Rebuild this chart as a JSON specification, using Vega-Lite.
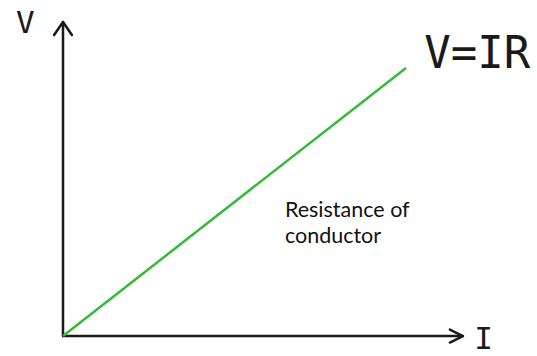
{
  "$schema": "https://vega.github.io/schema/vega-lite/v6.json",
  "autosize": {"type": "fit", "contains": "padding"},
  "width": 537,
  "height": 356,
  "padding": 0,
  "background": "white",
  "view": {"stroke": null},
  "datasets": {
    "axes": [
      {"part": "yaxis", "i": 0, "v": 0, "o": 0},
      {"part": "yaxis", "i": 0, "v": 9.18, "o": 1},
      {"part": "yarrow", "i": -0.26, "v": 8.8, "o": 0},
      {"part": "yarrow", "i": 0, "v": 9.18, "o": 1},
      {"part": "yarrow", "i": 0.26, "v": 8.8, "o": 2},
      {"part": "xaxis", "i": 0, "v": 0, "o": 0},
      {"part": "xaxis", "i": 11.66, "v": 0, "o": 1},
      {"part": "xarrow", "i": 11.28, "v": 0.19, "o": 0},
      {"part": "xarrow", "i": 11.66, "v": 0, "o": 1},
      {"part": "xarrow", "i": 11.28, "v": -0.19, "o": 2}
    ],
    "line": [
      {"i": 0, "v": 0},
      {"i": 10, "v": 7.84}
    ],
    "axislabels": [
      {"label": "V", "i": -1.1, "v": 9.11},
      {"label": "I", "i": 12.26, "v": -0.13}
    ],
    "formula": [
      {"label": "V=IR", "i": 12.08, "v": 8.22}
    ],
    "note": [
      {"label": "Resistance of", "i": 6.47, "v": 3.47},
      {"label": "conductor", "i": 6.47, "v": 2.71}
    ]
  },
  "encoding": {
    "x": {"field": "i", "type": "quantitative", "scale": {"domain": [-1.837, 13.82], "nice": false, "zero": false}, "axis": null},
    "y": {"field": "v", "type": "quantitative", "scale": {"domain": [-0.554, 9.825], "nice": false, "zero": false}, "axis": null}
  },
  "layer": [
    {
      "data": {"name": "axes"},
      "mark": {"type": "line", "color": "#1a1a1a", "strokeWidth": 2.5, "strokeCap": "round", "strokeJoin": "round"},
      "encoding": {
        "detail": {"field": "part"},
        "order": {"field": "o"}
      }
    },
    {
      "data": {"name": "line"},
      "mark": {"type": "line", "color": "#36b936", "strokeWidth": 2.5}
    },
    {
      "data": {"name": "axislabels"},
      "mark": {"type": "text", "font": "DejaVu Sans Mono", "fontSize": 31, "color": "#1a1a1a", "align": "center", "baseline": "middle"},
      "encoding": {"text": {"field": "label"}}
    },
    {
      "data": {"name": "formula"},
      "mark": {"type": "text", "font": "DejaVu Sans Mono", "fontSize": 44, "color": "#1a1a1a", "align": "center", "baseline": "middle"},
      "encoding": {"text": {"field": "label"}}
    },
    {
      "data": {"name": "note"},
      "mark": {"type": "text", "font": "Lato", "fontSize": 21.5, "color": "#111111", "align": "left", "baseline": "alphabetic"},
      "encoding": {"text": {"field": "label"}}
    }
  ]
}
